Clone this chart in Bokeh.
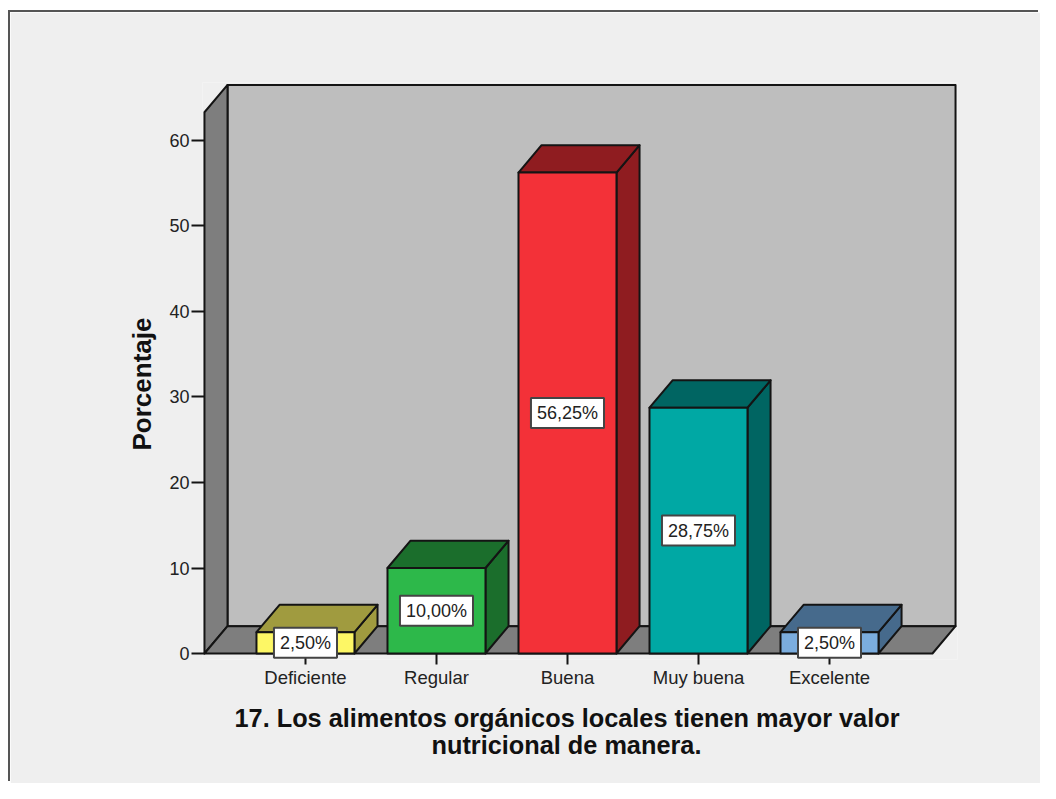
from bokeh.plotting import figure
from bokeh.embed import file_html
from bokeh.resources import INLINE
from bokeh.models import Label, FixedTicker, Range1d, Title

categories = ["Deficiente", "Regular", "Buena", "Muy buena", "Excelente"]
values = [2.50, 10.00, 56.25, 28.75, 2.50]
value_labels = ["2,50%", "10,00%", "56,25%", "28,75%", "2,50%"]
front_colors = ["#fdf765", "#2db84a", "#f33138", "#00a8a4", "#7badde"]
shade_colors = ["#a09b3f", "#1b6e2c", "#8f1c20", "#006562", "#466a8c"]
y_ticks = [0, 10, 20, 30, 40, 50, 60]
x_label_lines = ["17. Los alimentos orgánicos locales tienen mayor valor", "nutricional de manera."]
y_label = "Porcentaje"

FONT = "Liberation Sans"
INK = "#141414"
BAR_HALF = 0.374
DEPTH_X = 0.176
DEPTH_Y = 3.2
WALL_LEFT, WALL_RIGHT = -0.771, 4.786
WALL_TOP = 63.3

p = figure(width=1030, height=771, output_backend="svg", toolbar_location=None,
           x_range=Range1d(-0.786, 4.977), y_range=Range1d(-0.7, 66.78),
           min_border_left=192, min_border_right=83, min_border_top=70, min_border_bottom=124,
           margin=(12, 0, 0, 10))
p.grid.visible = False
p.outline_line_color = None
p.background_fill_color = "#efefef"
p.border_fill_color = "#efefef"
p.styles = {"box-shadow": "-2px -2px 0 #555555"}

def face(xs, ys, color):
    p.patch(xs, ys, fill_color=color, line_color=INK, line_width=2, line_join="round")

# chart box: back wall, left wall, floor
face([WALL_LEFT + DEPTH_X, WALL_RIGHT + DEPTH_X, WALL_RIGHT + DEPTH_X, WALL_LEFT + DEPTH_X],
     [DEPTH_Y, DEPTH_Y, WALL_TOP + DEPTH_Y, WALL_TOP + DEPTH_Y], "#bebebe")
face([WALL_LEFT, WALL_LEFT + DEPTH_X, WALL_LEFT + DEPTH_X, WALL_LEFT],
     [0, DEPTH_Y, WALL_TOP + DEPTH_Y, WALL_TOP], "#7e7e7e")
face([WALL_LEFT, WALL_RIGHT, WALL_RIGHT + DEPTH_X, WALL_LEFT + DEPTH_X],
     [0, 0, DEPTH_Y, DEPTH_Y], "#7e7e7e")

# bars
for i, v in enumerate(values):
    l, r = i - BAR_HALF, i + BAR_HALF
    face([r, r + DEPTH_X, r + DEPTH_X, r], [0, DEPTH_Y, v + DEPTH_Y, v], shade_colors[i])
    face([l, r, r + DEPTH_X, l + DEPTH_X], [v, v, v + DEPTH_Y, v + DEPTH_Y], shade_colors[i])
    face([l, r, r, l], [0, 0, v, v], front_colors[i])

# axes
xa = p.xaxis[0]
xa.ticker = FixedTicker(ticks=list(range(len(categories))))
xa.major_label_overrides = {i: c for i, c in enumerate(categories)}
xa.axis_line_color = None
xa.major_tick_line_color = INK
xa.major_tick_line_width = 2
xa.major_tick_out = 5
xa.major_tick_in = 6
xa.minor_tick_line_color = None
xa.major_label_text_font = FONT
xa.major_label_text_font_size = "18.5px"
xa.major_label_text_color = "#222222"
xa.major_label_standoff = 2

ya = p.yaxis[0]
ya.ticker = FixedTicker(ticks=y_ticks)
ya.axis_line_color = None
ya.major_tick_line_color = INK
ya.major_tick_line_width = 2
ya.major_tick_out = 11
ya.major_tick_in = 2
ya.minor_tick_line_color = None
ya.major_label_text_font = FONT
ya.major_label_text_font_size = "18px"
ya.major_label_text_color = "#222222"
ya.major_label_standoff = 2

# value labels
for i, v in enumerate(values):
    p.add_layout(Label(x=i, y=v / 2, text=value_labels[i], text_align="center",
                       text_baseline="middle", text_font=FONT, text_font_size="18px",
                       text_color="#222222", background_fill_color="#ffffff",
                       background_fill_alpha=1, border_line_color="#444444",
                       border_line_width=2, padding=(6, 5)))

# axis titles
p.add_layout(Title(text=x_label_lines[0], align="left", offset=32, standoff=23,
                   text_font=FONT, text_font_style="bold", text_font_size="25.3px",
                   text_color="#111111"), "below")
p.add_layout(Title(text=x_label_lines[1], align="left", offset=229, standoff=-30,
                   text_font=FONT, text_font_style="bold", text_font_size="25.3px",
                   text_color="#111111"), "below")
p.add_layout(Title(text=y_label, align="left", offset=209, standoff=19,
                   text_font=FONT, text_font_style="bold", text_font_size="26px",
                   text_color="#111111"), "left")

open("out.html", "w").write(file_html(p, INLINE))
